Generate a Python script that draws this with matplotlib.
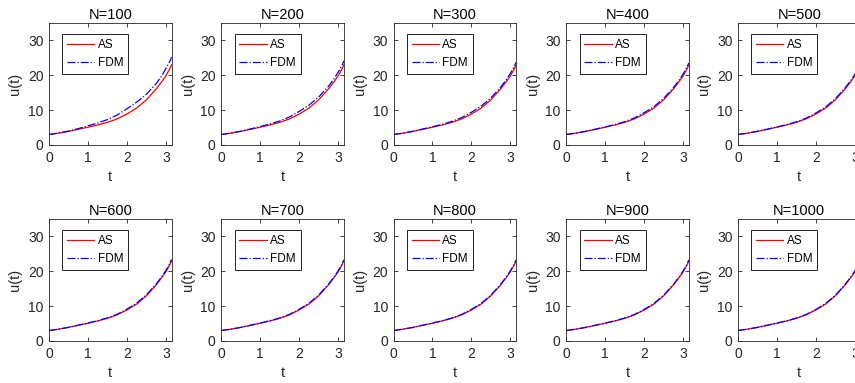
import matplotlib
matplotlib.use("Agg")
import matplotlib.pyplot as plt
import numpy as np

plt.rcParams['font.family'] = ['Liberation Sans', 'DejaVu Sans']

t = [0, 0.25, 0.5, 0.75, 1.0, 1.25, 1.5, 1.75, 2.0, 2.25, 2.5, 2.75, 2.9, 3.0, 3.1, np.pi]

u_as = [3.0, 3.4, 3.9, 4.5, 5.1, 5.75, 6.5, 7.5, 8.9, 10.6, 13.0, 16.1, 18.3, 19.9, 21.9, 23.0]

N_values = [100, 200, 300, 400, 500, 600, 700, 800, 900, 1000]

u_fdm_100 = [3.0, 3.45, 4.0, 4.7, 5.5, 6.3, 7.3, 8.6, 10.4, 12.3, 14.6, 17.6, 20.0, 22.0, 24.0, 25.2]
u_fdm_200 = [3.0, 3.43, 3.95, 4.6, 5.3, 6.03, 6.9, 8.05, 9.65, 11.45, 13.8, 16.85, 19.15, 20.95, 22.95, 24.1]
u_fdm_300 = [3.0, 3.42, 3.93, 4.57, 5.23, 5.93, 6.77, 7.87, 9.4, 11.17, 13.53, 16.6, 18.87, 20.6, 22.6, 23.73]
u_fdm_400 = [3.0, 3.41, 3.93, 4.55, 5.2, 5.89, 6.7, 7.78, 9.28, 11.03, 13.4, 16.48, 18.73, 20.43, 22.43, 23.55]
u_fdm_500 = [3.0, 3.41, 3.92, 4.54, 5.18, 5.86, 6.66, 7.72, 9.2, 10.94, 13.32, 16.4, 18.64, 20.32, 22.32, 23.44]
u_fdm_600 = [3.0, 3.41, 3.92, 4.53, 5.17, 5.84, 6.63, 7.68, 9.15, 10.88, 13.27, 16.35, 18.58, 20.25, 22.25, 23.37]
u_fdm_700 = [3.0, 3.41, 3.91, 4.53, 5.16, 5.83, 6.61, 7.66, 9.11, 10.84, 13.23, 16.31, 18.54, 20.2, 22.2, 23.31]
u_fdm_800 = [3.0, 3.41, 3.91, 4.53, 5.15, 5.82, 6.6, 7.64, 9.09, 10.81, 13.2, 16.29, 18.51, 20.17, 22.17, 23.28]
u_fdm_900 = [3.0, 3.41, 3.91, 4.52, 5.14, 5.81, 6.59, 7.62, 9.07, 10.79, 13.18, 16.27, 18.49, 20.14, 22.14, 23.24]
u_fdm_1000 = [3.0, 3.41, 3.91, 4.52, 5.14, 5.81, 6.58, 7.61, 9.05, 10.77, 13.16, 16.25, 18.47, 20.12, 22.12, 23.22]

fdm_all = [u_fdm_100, u_fdm_200, u_fdm_300, u_fdm_400, u_fdm_500,
           u_fdm_600, u_fdm_700, u_fdm_800, u_fdm_900, u_fdm_1000]

W, H = 855, 383
fig = plt.figure(figsize=(W / 100, H / 100), dpi=100)

lefts = [49, 221.3, 393.5, 566.3, 738]
tops = [23, 219]
aw, ah = 122.5, 122
dark = '#262626'

for i, N in enumerate(N_values):
    r, c = divmod(i, 5)
    ax = fig.add_axes([lefts[c] / W, (H - tops[r] - ah) / H, aw / W, ah / H])
    ax.plot(t, u_as, color='red', linewidth=0.9, label='AS')
    ax.plot(t, fdm_all[i], color='blue', linestyle='-.', linewidth=0.9, label='FDM')
    ax.set_xlim(0, np.pi)
    ax.set_ylim(0, 35)
    ax.set_xticks([0, 1, 2, 3])
    ax.set_yticks([0, 10, 20, 30])
    ax.tick_params(direction='in', top=True, right=True, length=3, width=0.6,
                   labelsize=10, colors=dark, pad=4)
    for s in ax.spines.values():
        s.set_linewidth(0.6)
        s.set_color(dark)
    ax.set_title('N=%d' % N, fontsize=10.5, color='black', pad=3)
    ax.set_xlabel('t', fontsize=10.5, color=dark, labelpad=4)
    ax.set_ylabel('u(t)', fontsize=10.5, color=dark, labelpad=4)
    leg = ax.legend(loc='upper left', bbox_to_anchor=(0.11, 0.91), fontsize=8.5,
                    handlelength=2.3, handletextpad=0.3, borderpad=0.4,
                    labelspacing=0.55, fancybox=False, framealpha=1,
                    edgecolor='black', borderaxespad=0)
    leg.get_frame().set_linewidth(0.6)

fig.savefig('out.png', dpi=100)
